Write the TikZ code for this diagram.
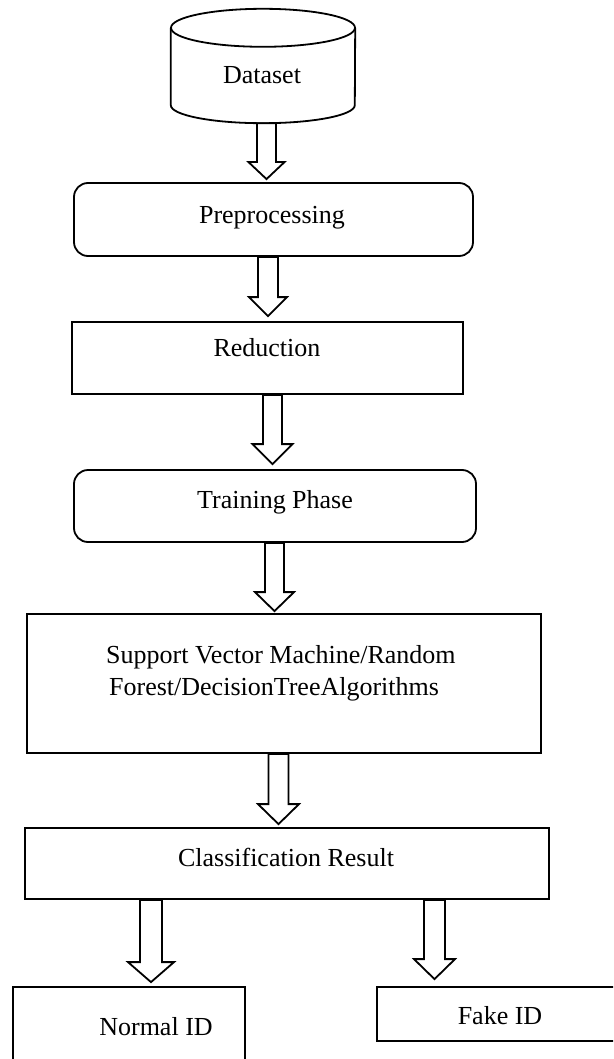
\documentclass[tikz,border=0pt]{standalone}
\usepackage{fontspec}
\setmainfont{Liberation Serif}
\usetikzlibrary{calc}

\tikzset{
  outline/.style={line width=1.8, line join=miter},
  box/.style={outline, draw, fill=white, inner sep=0},
  roundbox/.style={box, rounded corners=14},
  holder/.style={inner sep=0},
  lbl/.style={inner sep=0, font=\fontsize{26}{32}\selectfont},
  blockarrow/.style={outline, draw, fill=white},
}

% Hollow block arrow pointing down.
% #1 start (only its y is used), #2 tip, #3 shaft half width,
% #4 head half width, #5 head length (all in pt)
\newcommand\hollowarrow[5]{%
  \path[blockarrow] let \p1=(#1), \p2=(#2) in
    (\x2-#3pt,\y1) -- (\x2-#3pt,\y2+#5pt) -- (\x2-#4pt,\y2+#5pt) -- (\x2,\y2)
    -- (\x2+#4pt,\y2+#5pt) -- (\x2+#3pt,\y2+#5pt) -- (\x2+#3pt,\y1) -- cycle;}

\begin{document}
\begin{tikzpicture}[x=1pt, y=-1pt]
  \path[use as bounding box, fill=white] (0,0) rectangle (613,1059);
  \clip (0,0) rectangle (613,1059);

  % database cylinder
  \node[holder, minimum width=184, minimum height=114] (ds) at (263,66) {};
  \path[outline, draw, fill=white]
    ([yshift=-19pt]ds.north west) -- ([yshift=18pt]ds.south west)
    arc[start angle=180, end angle=360, x radius=92pt, y radius=18pt]
    -- ([yshift=-19pt]ds.north east);
  \draw[outline] ([yshift=-19pt]ds.north) ellipse [x radius=92pt, y radius=19pt];
  \node[lbl] (dst) at (262,75) {Dataset};

  % processing steps
  \node[roundbox, minimum width=399, minimum height=73] (pre) at (273.5,219.5) {};
  \node[lbl] (pret) at (272,218) {Preprocessing};

  \node[box, minimum width=391, minimum height=72] (red) at (267.5,358) {};
  \node[lbl] (redt) at (267,348) {Reduction};

  \node[roundbox, minimum width=402, minimum height=72] (train) at (275,506) {};
  \node[lbl] (traint) at (275,502) {Training Phase};

  \node[box, minimum width=514, minimum height=139] (svm) at (284,683.5) {};
  \node[lbl, anchor=west, align=left] (svmt) at (106,673)
    {Support Vector Machine/Random\\\hspace*{3pt}Forest/DecisionTreeAlgorithms};

  \node[box, minimum width=524, minimum height=71] (cls) at (287,863.5) {};
  \node[lbl] (clst) at (286,857) {Classification Result};

  % outcomes
  \node[box, minimum width=232, minimum height=83] (normal) at (129,1028.5) {};
  \node[lbl] (normalt) at (156,1027) {Normal ID};

  \node[box, minimum width=243, minimum height=54] (fake) at (498.5,1014) {};
  \node[lbl] (faket) at (500,1016) {Fake ID};

  % flow arrows
  \hollowarrow{ds.south}{[xshift=-7pt,yshift=3pt]pre.north}{9.5}{18}{17}
  \hollowarrow{pre.south}{[xshift=0.5pt,yshift=5pt]red.north}{10}{19}{19}
  \hollowarrow{red.south}{[xshift=-2.5pt,yshift=5pt]train.north}{9.5}{20}{20}
  \hollowarrow{train.south}{[xshift=-9.5pt,yshift=2pt]svm.north}{9.5}{19.5}{19}
  \hollowarrow{svm.south}{[xshift=-8.5pt,yshift=3pt]cls.north}{10}{20.5}{20}
  \hollowarrow{cls.south}{[xshift=22pt,yshift=4pt]normal.north}{11}{23}{20}
  \hollowarrow{cls.south}{[xshift=-64pt,yshift=7pt]fake.north}{10.5}{20.5}{20}
\end{tikzpicture}
\end{document}
